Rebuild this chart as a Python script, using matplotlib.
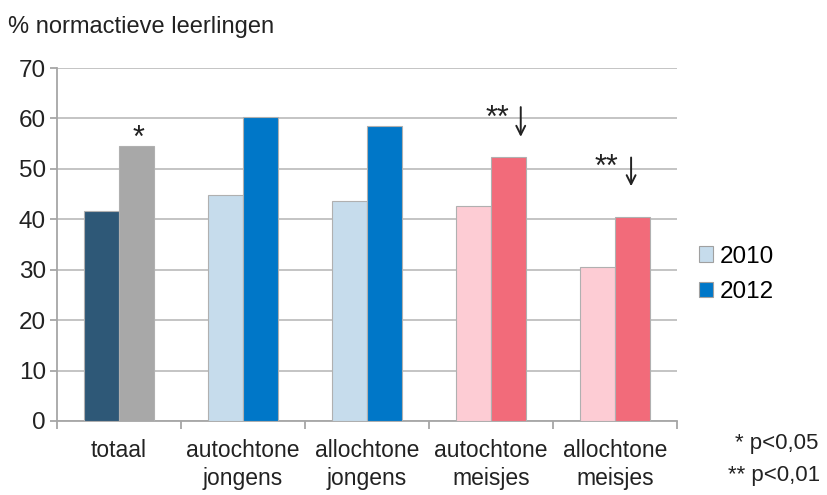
import matplotlib
matplotlib.use("Agg")
import matplotlib.pyplot as plt
from matplotlib.patches import Patch
import numpy as np

categories = ["totaal", "autochtone\njongens", "allochtone\njongens", "autochtone\nmeisjes", "allochtone\nmeisjes"]
values_2010 = [41.6, 44.8, 43.6, 42.6, 30.5]
values_2012 = [54.6, 60.3, 58.5, 52.4, 40.4]
colors_2010 = ["#2E5877", "#C6DCEC", "#C6DCEC", "#FDCCD4", "#FDCCD4"]
colors_2012 = ["#A8A8A8", "#0077C8", "#0077C8", "#F26B7A", "#F26B7A"]
yticks = [0, 10, 20, 30, 40, 50, 60, 70]

plt.rcParams['font.family'] = ['Liberation Sans', 'DejaVu Sans']

fig = plt.figure(figsize=(8.27, 4.95), dpi=100)
ax = fig.add_axes([0.0689, 0.1495, 0.7497, 0.7131])

x = np.arange(len(categories))
w = 0.285
ax.bar(x - w/2, values_2010, width=w, color=colors_2010, edgecolor="#B0B0B0", linewidth=0.8, zorder=3)
ax.bar(x + w/2, values_2012, width=w, color=colors_2012, edgecolor="#B0B0B0", linewidth=0.8, zorder=3)

ax.set_xlim(-0.5, len(categories) - 0.5)
ax.set_ylim(0, 70)
ax.set_yticks(yticks)
ax.yaxis.grid(True, color="#BFBFBF", linewidth=1.3, zorder=0)
ax.set_axisbelow(True)
for s in ["top", "right"]:
    ax.spines[s].set_visible(False)
ax.spines["left"].set_color("#A6A6A6")
ax.spines["bottom"].set_color("#A6A6A6")
ax.spines["left"].set_linewidth(1.3)
ax.spines["bottom"].set_linewidth(1.3)
ax.tick_params(axis="y", colors="#A6A6A6", labelcolor="#222222", labelsize=17.5, length=5, width=1.3, pad=3)

ax.set_xticks(np.arange(len(categories) + 1) - 0.5)
ax.set_xticklabels([])
ax.tick_params(axis="x", colors="#A6A6A6", length=6, width=1.3)
ax.set_xticks(x, minor=True)
ax.set_xticklabels(categories, minor=True, fontsize=16.5, color="#222222", linespacing=1.3)
ax.tick_params(axis="x", which="minor", length=0, pad=13)

fig.text(0.010, 0.945, "% normactieve leerlingen", fontsize=17, color="#222222", va="center")

# significance marks
ax.text(0 + 0.16, 55.9, "*", ha="center", va="center", fontsize=22, color="#222222")
ax.text(3.05, 60.0, "**", ha="center", va="center", fontsize=22, color="#222222")
ax.annotate("", xy=(3.24, 55.8), xytext=(3.24, 62.8),
            arrowprops=dict(arrowstyle="->", color="#222222", lw=1.4, mutation_scale=16))
ax.text(3.93, 50.1, "**", ha="center", va="center", fontsize=22, color="#222222")
ax.annotate("", xy=(4.13, 46.0), xytext=(4.13, 52.8),
            arrowprops=dict(arrowstyle="->", color="#222222", lw=1.4, mutation_scale=16))

handles = [Patch(facecolor="#C6DCEC", edgecolor="#A0A0A0", linewidth=0.8),
           Patch(facecolor="#0077C8", edgecolor="#A0A0A0", linewidth=0.8)]
fig.legend(handles, ["2010", "2012"], loc="center left", bbox_to_anchor=(0.845, 0.446),
           frameon=False, fontsize=17.5, handlelength=0.6, handleheight=0.6,
           handletextpad=0.25, labelspacing=0.55, borderaxespad=0, borderpad=0)

fig.text(0.990, 0.105, "* p<0,05", ha="right", va="center", fontsize=16, color="#222222")
fig.text(0.992, 0.040, "** p<0,01", ha="right", va="center", fontsize=16, color="#222222")

fig.savefig("out.png", dpi=100)
